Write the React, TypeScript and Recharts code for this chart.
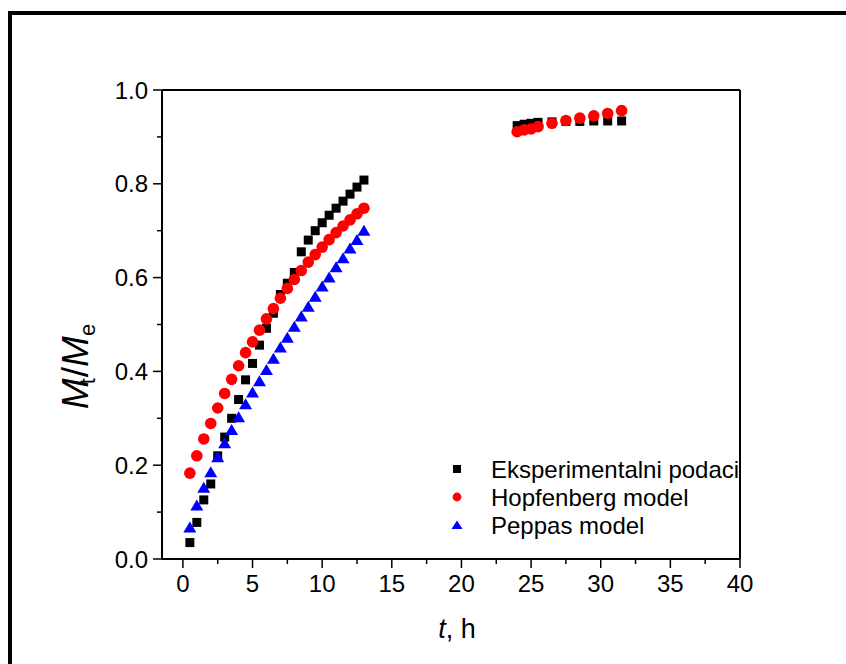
import React from 'react';
import { ScatterChart, Scatter, XAxis, YAxis, Legend } from 'recharts';

// ---- data ----
const timesEarly = [0.5, 1, 1.5, 2, 2.5, 3, 3.5, 4, 4.5, 5, 5.5, 6, 6.5, 7, 7.5, 8, 8.5, 9, 9.5, 10, 10.5, 11, 11.5, 12, 12.5, 13];
const timesLate = [24, 24.5, 25, 25.5, 26.5, 27.5, 28.5, 29.5, 30.5, 31.5];

const expEarly = [0.035, 0.078, 0.126, 0.16, 0.22, 0.26, 0.3, 0.34, 0.382, 0.417, 0.456, 0.492, 0.524, 0.564, 0.588, 0.611, 0.655, 0.68, 0.7, 0.717, 0.733, 0.748, 0.763, 0.778, 0.793, 0.808];
const expLate = [0.924, 0.927, 0.929, 0.931, 0.932, 0.933, 0.933, 0.934, 0.934, 0.934];

const hopEarly = [0.183, 0.22, 0.256, 0.289, 0.322, 0.353, 0.383, 0.412, 0.44, 0.463, 0.488, 0.512, 0.534, 0.556, 0.577, 0.596, 0.615, 0.633, 0.649, 0.665, 0.681, 0.696, 0.71, 0.723, 0.736, 0.748];
const hopLate = [0.911, 0.915, 0.917, 0.922, 0.929, 0.935, 0.94, 0.945, 0.95, 0.956];

const pepEarly = [0.067, 0.114, 0.152, 0.185, 0.217, 0.247, 0.275, 0.302, 0.33, 0.355, 0.379, 0.403, 0.427, 0.451, 0.472, 0.495, 0.517, 0.538, 0.559, 0.581, 0.6, 0.622, 0.641, 0.662, 0.68, 0.7];

const xTicks = [0, 2.5, 5, 7.5, 10, 12.5, 15, 17.5, 20, 22.5, 25, 27.5, 30, 32.5, 35, 37.5, 40];
const yTicks = [0, 0.1, 0.2, 0.3, 0.4, 0.5, 0.6, 0.7, 0.8, 0.9, 1.0];

const seriesNames = ['Eksperimentalni podaci', 'Hopfenberg model', 'Peppas model'];
const seriesColors = ['#000000', '#ff0000', '#0000ff'];

const expData = timesEarly.map((t, i) => ({ t, v: expEarly[i] })).concat(timesLate.map((t, i) => ({ t, v: expLate[i] })));
const hopData = timesEarly.map((t, i) => ({ t, v: hopEarly[i] })).concat(timesLate.map((t, i) => ({ t, v: hopLate[i] })));
const pepData = timesEarly.map((t, i) => ({ t, v: pepEarly[i] }));

const FONT = '"Liberation Sans", Arial, Helvetica, sans-serif';

// ---- shapes ----
const SquareShape = (p: any) => <rect x={p.cx - 4.5} y={p.cy - 4.5} width={9} height={9} fill={seriesColors[0]} />;
const CircleShape = (p: any) => <circle cx={p.cx} cy={p.cy} r={5.8} fill={seriesColors[1]} />;
const TriangleShape = (p: any) => (
  <polygon points={`${p.cx},${p.cy - 6} ${p.cx - 6.5},${p.cy + 5} ${p.cx + 6.5},${p.cy + 5}`} fill={seriesColors[2]} />
);

// ---- ticks ----
const XTick = (props: any) => {
  const { x, y, payload } = props;
  const major = payload.value % 5 === 0;
  return (
    <g>
      <line x1={x} x2={x} y1={y} y2={y + (major ? 9 : 5)} stroke="#000" strokeWidth={1.5} />
      {major && (
        <text x={x} y={y + 33} textAnchor="middle" fontSize={24} fontFamily={FONT} fill="#000">
          {payload.value}
        </text>
      )}
    </g>
  );
};

const YTick = (props: any) => {
  const { x, y, payload } = props;
  const major = Math.round(payload.value * 10) % 2 === 0;
  return (
    <g>
      <line x1={x - (major ? 9 : 5)} x2={x} y1={y} y2={y} stroke="#000" strokeWidth={1.5} />
      {major && (
        <text x={x - 14} y={y + 8.5} textAnchor="end" fontSize={24} fontFamily={FONT} fill="#000">
          {payload.value.toFixed(1)}
        </text>
      )}
    </g>
  );
};

const YTitle = (props: any) => {
  const vb = props.viewBox || { x: 0, y: 90, width: 162, height: 469 };
  const cx = vb.x + 88;
  const cy = vb.y + vb.height / 2 + 42;
  return (
    <text x={cx} y={cy} transform={`rotate(-90, ${cx}, ${cy})`} textAnchor="middle" fontSize={37} fontFamily={FONT} fill="#000">
      <tspan fontStyle="italic">M</tspan>
      <tspan fontSize={22} fontStyle="normal" dx={-6} dy={7}>t</tspan>
      <tspan fontStyle="normal" dx={1} dy={-7}>/</tspan>
      <tspan fontStyle="italic">M</tspan>
      <tspan fontSize={22} fontStyle="normal" dy={7}>e</tspan>
    </text>
  );
};

const XTitle = (props: any) => {
  const vb = props.viewBox || { x: 162, y: 559, width: 578, height: 105 };
  const cx = vb.x + vb.width / 2 + 6;
  const cy = vb.y + 79;
  return (
    <text x={cx} y={cy} textAnchor="middle" fontSize={27} fontFamily={FONT} fill="#000">
      <tspan fontStyle="italic">t</tspan>
      <tspan>, h</tspan>
    </text>
  );
};

const LegendContent = () => (
  <svg width={320} height={95} style={{ display: 'block' }}>
    {seriesNames.map((name, i) => {
      const cy = 19 + i * 28;
      const sx = 17;
      let sym: React.ReactNode;
      if (i === 0) sym = <rect x={sx - 4} y={cy - 4} width={8} height={8} fill={seriesColors[0]} />;
      else if (i === 1) sym = <circle cx={sx} cy={cy} r={4.4} fill={seriesColors[1]} />;
      else sym = <polygon points={`${sx},${cy - 4.5} ${sx - 5.5},${cy + 4} ${sx + 5.5},${cy + 4}`} fill={seriesColors[2]} />;
      return (
        <g key={name}>
          {sym}
          <text x={51} y={cy + 8.5} fontSize={24} fontFamily={FONT} fill="#000">
            {name}
          </text>
        </g>
      );
    })}
  </svg>
);

export default function App() {
  return (
    <div style={{ position: 'absolute', left: 0, top: 0, width: 846, height: 664, background: '#fff', overflow: 'hidden' }}>
      <div
        style={{
          position: 'absolute',
          left: 8,
          top: 11,
          width: 834,
          height: 649,
          borderLeft: '4px solid #000',
          borderTop: '4px solid #000',
        }}
      />
      <div style={{ position: 'absolute', left: 0, top: 0 }}>
        <ScatterChart width={846} height={664} margin={{ top: 90, right: 106, bottom: 0, left: 0 }}>
          <XAxis
            dataKey="t"
            type="number"
            domain={[-1.5, 40]}
            allowDataOverflow
            ticks={xTicks}
            interval={0}
            tickSize={0}
            tickMargin={0}
            tickLine={false}
            tick={<XTick />}
            height={105}
            axisLine={{ stroke: '#000', strokeWidth: 2 }}
            label={{ content: (p: any) => <XTitle {...p} /> }}
          />
          <XAxis
            xAxisId="top"
            orientation="top"
            mirror
            type="number"
            domain={[-1.5, 40]}
            allowDataOverflow
            ticks={xTicks}
            interval={0}
            tick={false}
            tickSize={3}
            tickLine={{ stroke: '#000', strokeWidth: 1.5 }}
            axisLine={{ stroke: '#000', strokeWidth: 2 }}
          />
          <YAxis
            dataKey="v"
            type="number"
            domain={[0, 1]}
            allowDataOverflow
            ticks={yTicks}
            interval={0}
            tickSize={0}
            tickMargin={0}
            tickLine={false}
            tick={<YTick />}
            width={162}
            axisLine={{ stroke: '#000', strokeWidth: 2 }}
            label={{ content: (p: any) => <YTitle {...p} /> }}
          />
          <YAxis
            yAxisId="right"
            orientation="right"
            mirror
            type="number"
            domain={[0, 1]}
            allowDataOverflow
            ticks={yTicks}
            interval={0}
            tick={false}
            tickSize={3}
            tickLine={{ stroke: '#000', strokeWidth: 1.5 }}
            axisLine={{ stroke: '#000', strokeWidth: 2 }}
          />
          <Legend
            layout="horizontal"
            verticalAlign="middle"
            align="center"
            wrapperStyle={{ position: 'absolute', left: 440, top: 450, width: 320, height: 95 }}
            content={() => <LegendContent />}
          />
          <Scatter name={seriesNames[0]} data={expData} fill={seriesColors[0]} shape={SquareShape} isAnimationActive={false} />
          <Scatter name={seriesNames[1]} data={hopData} fill={seriesColors[1]} shape={CircleShape} isAnimationActive={false} />
          <Scatter name={seriesNames[2]} data={pepData} fill={seriesColors[2]} shape={TriangleShape} isAnimationActive={false} />
        </ScatterChart>
      </div>
    </div>
  );
}
